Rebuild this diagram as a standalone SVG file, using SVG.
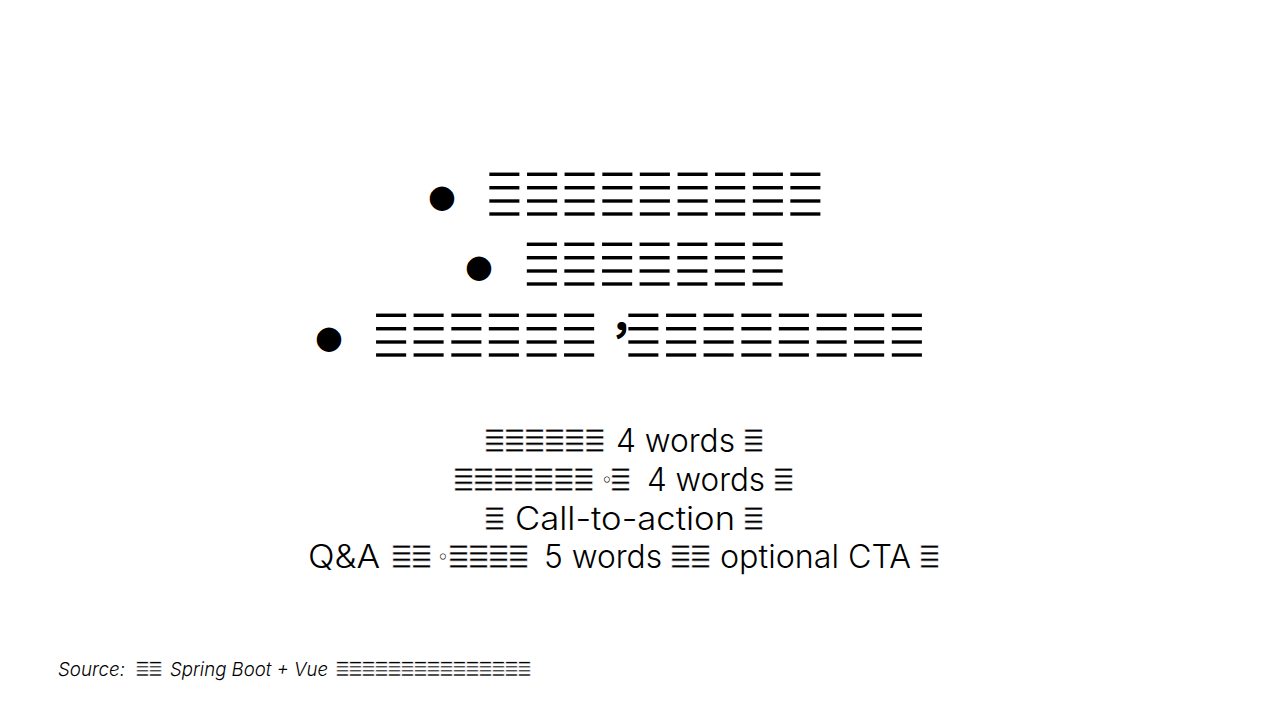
<svg xmlns="http://www.w3.org/2000/svg" width="1280" height="720" viewBox="0 0 1280 720">
<style>
.bg{fill:#ffffff}
.bul{font-family:"DejaVu Sans",sans-serif;font-size:32px;fill:#000}
.big{font-family:"DejaVu Sans",sans-serif;font-size:51px;letter-spacing:-5.1px;fill:#000;stroke:#fff;stroke-width:1.76px}
.cjk{font-family:"Noto Sans CJK SC",sans-serif;font-size:45px;font-weight:700;fill:#000}
.body{font-family:Inter,"Liberation Sans",sans-serif;font-size:32px;font-weight:300;fill:#000}
.dot{font-family:"DejaVu Sans",sans-serif;font-size:20px;fill:#000}
.e{font-family:"DejaVu Sans",sans-serif;font-size:28.1px;letter-spacing:-3.5px;fill:#000;stroke:#fff;stroke-width:0.6px}
.src{font-family:Inter,"Liberation Sans",sans-serif;font-size:19px;font-style:italic;font-weight:300;fill:#000}
.es{font-family:"DejaVu Sans",sans-serif;font-size:18.2px;letter-spacing:-2.25px;fill:#000;stroke:#fff;stroke-width:0.4px}
</style>
<rect class="bg" x="0" y="0" width="1280" height="720"/>
<g id="bullet-1">
<text class="bul" x="442" y="207" text-anchor="middle">●</text>
<text class="big" transform="translate(483,216.8) scale(1,1.422)">≣≣≣≣≣≣≣≣≣</text>
</g>
<g id="bullet-2">
<text class="bul" x="479" y="277" text-anchor="middle">●</text>
<text class="big" transform="translate(520.4,286.5) scale(1,1.422)">≣≣≣≣≣≣≣</text>
</g>
<g id="bullet-3">
<text class="bul" x="329" y="348" text-anchor="middle">●</text>
<text class="big" transform="translate(369.7,358) scale(1,1.422)">≣≣≣≣≣≣</text>
<text class="cjk" x="609" y="333">，</text>
<text class="big" transform="translate(622,358) scale(1,1.422)">≣≣≣≣≣≣≣≣</text>
</g>
<g id="closing">
<text class="e" transform="translate(482.7,452.4) scale(1,1.29)">≣≣≣≣≣≣</text>
<text class="body" x="616" y="452" textLength="119" lengthAdjust="spacingAndGlyphs">4 words</text>
<text class="e" transform="translate(741.7,452.4) scale(1,1.29)">≣</text>

<text class="e" transform="translate(451.7,491.4) scale(1,1.29)">≣≣≣≣≣≣≣</text>
<text class="dot" x="601" y="487">◦</text>
<text class="e" transform="translate(608.7,491.4) scale(1,1.29)">≣</text>
<text class="body" x="647" y="491" textLength="118" lengthAdjust="spacingAndGlyphs">4 words</text>
<text class="e" transform="translate(771.7,491.4) scale(1,1.29)">≣</text>

<text class="e" transform="translate(482.7,530.4) scale(1,1.29)">≣</text>
<text class="body" x="515" y="530" textLength="220" lengthAdjust="spacingAndGlyphs">Call-to-action</text>
<text class="e" transform="translate(741.7,530.4) scale(1,1.29)">≣</text>

<text class="body" x="308" y="568" textLength="72" lengthAdjust="spacingAndGlyphs">Q&amp;A</text>
<text class="e" transform="translate(389.7,568.4) scale(1,1.29)">≣≣</text>
<text class="dot" x="437" y="564">◦</text>
<text class="e" transform="translate(446.7,568.4) scale(1,1.29)">≣≣≣≣</text>
<text class="body" x="544" y="568" textLength="118" lengthAdjust="spacingAndGlyphs">5 words</text>
<text class="e" transform="translate(668.7,568.4) scale(1,1.29)">≣≣</text>
<text class="body" x="720" y="568" textLength="191" lengthAdjust="spacingAndGlyphs">optional CTA</text>
<text class="e" transform="translate(917.7,568.4) scale(1,1.29)">≣</text>
</g>
<g id="source">
<text class="src" x="58" y="676" textLength="67" lengthAdjust="spacingAndGlyphs">Source:</text>
<text class="es" transform="translate(134.85,676.3) scale(1,1.26)">≣≣</text>
<text class="src" x="170" y="676" textLength="158" lengthAdjust="spacingAndGlyphs">Spring Boot + Vue</text>
<text class="es" transform="translate(334.85,676.3) scale(1,1.26)">≣≣≣≣≣≣≣≣≣≣≣≣≣≣≣</text>
</g>
</svg>
